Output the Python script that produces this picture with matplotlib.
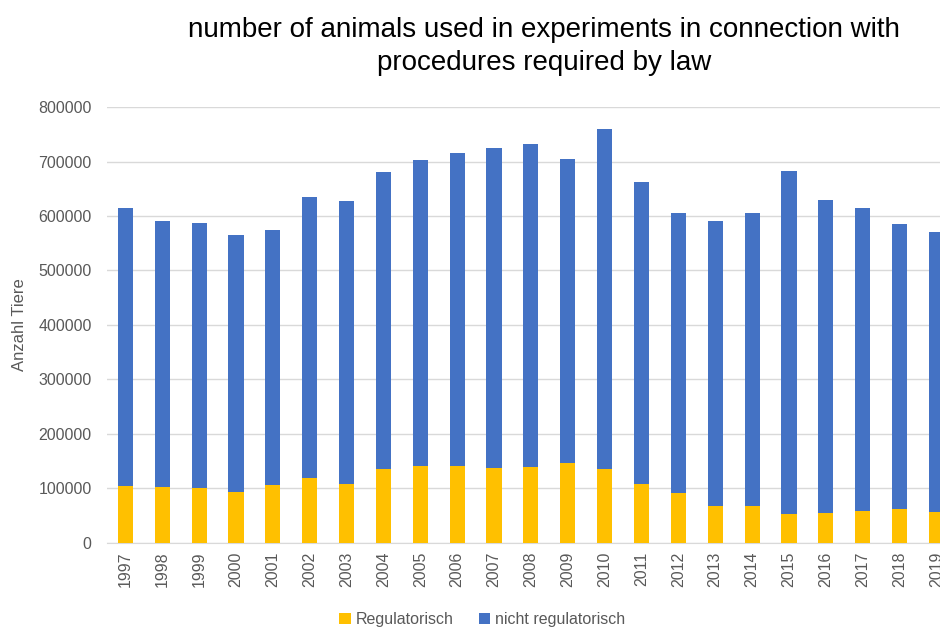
import matplotlib.pyplot as plt
import numpy as np

years = [str(y) for y in range(1997, 2020)]
regulatorisch = [104000, 102000, 100000, 93000, 107000, 119000, 108000, 135000,
                 142000, 142000, 138000, 139000, 146000, 135000, 108000, 91000,
                 68500, 68500, 52500, 55000, 58000, 62000, 57000]
gesamt = [614500, 590000, 588000, 566000, 575000, 635500, 627000, 681500,
          703500, 715500, 725500, 731500, 704500, 760500, 662000, 605000,
          590000, 605000, 682500, 628500, 614500, 585000, 570500]
nicht_regulatorisch = [g - r for g, r in zip(gesamt, regulatorisch)]

YELLOW = '#FFC000'
BLUE = '#4472C4'
GREY = '#595959'

plt.rcParams['font.family'] = ['Liberation Sans', 'DejaVu Sans']

fig = plt.figure(figsize=(9.4, 6.28), dpi=100)
# plot area runs a little past the right edge of the figure
ax = fig.add_axes([0.1138, 0.1354, 0.902, 0.6942])

x = np.arange(len(years))
ax.bar(x, regulatorisch, width=0.41, color=YELLOW, label='Regulatorisch', zorder=3)
ax.bar(x, nicht_regulatorisch, width=0.41, bottom=regulatorisch, color=BLUE,
       label='nicht regulatorisch', zorder=3)

ax.set_xlim(-0.5, len(years) - 0.5)
ax.set_ylim(0, 800000)
ax.set_yticks(np.arange(0, 800001, 100000))
ax.yaxis.grid(True, color='#D9D9D9', linewidth=1, zorder=0)
ax.set_axisbelow(True)

ax.set_xticks(x)
ax.set_xticklabels(years, rotation=90, fontsize=11.5, color=GREY)
ax.tick_params(axis='y', length=0, labelsize=11.5, labelcolor=GREY, pad=11)
ax.tick_params(axis='x', length=0, pad=6)

for side in ['top', 'right', 'left']:
    ax.spines[side].set_visible(False)
ax.spines['bottom'].set_color('#D9D9D9')

ax.set_ylabel('Anzahl Tiere', fontsize=12, color=GREY, labelpad=8)

fig.text(0.579, 0.926, 'number of animals used in experiments in connection with\nprocedures required by law',
         ha='center', va='center', fontsize=20, color='black', linespacing=1.38)

fig.legend(loc='center', bbox_to_anchor=(0.513, 0.014), ncol=2, frameon=False,
           fontsize=11.5, handlelength=0.7, handleheight=0.7, handletextpad=0.3,
           columnspacing=1.6, labelcolor=GREY)

fig.savefig('out.png', dpi=100)
